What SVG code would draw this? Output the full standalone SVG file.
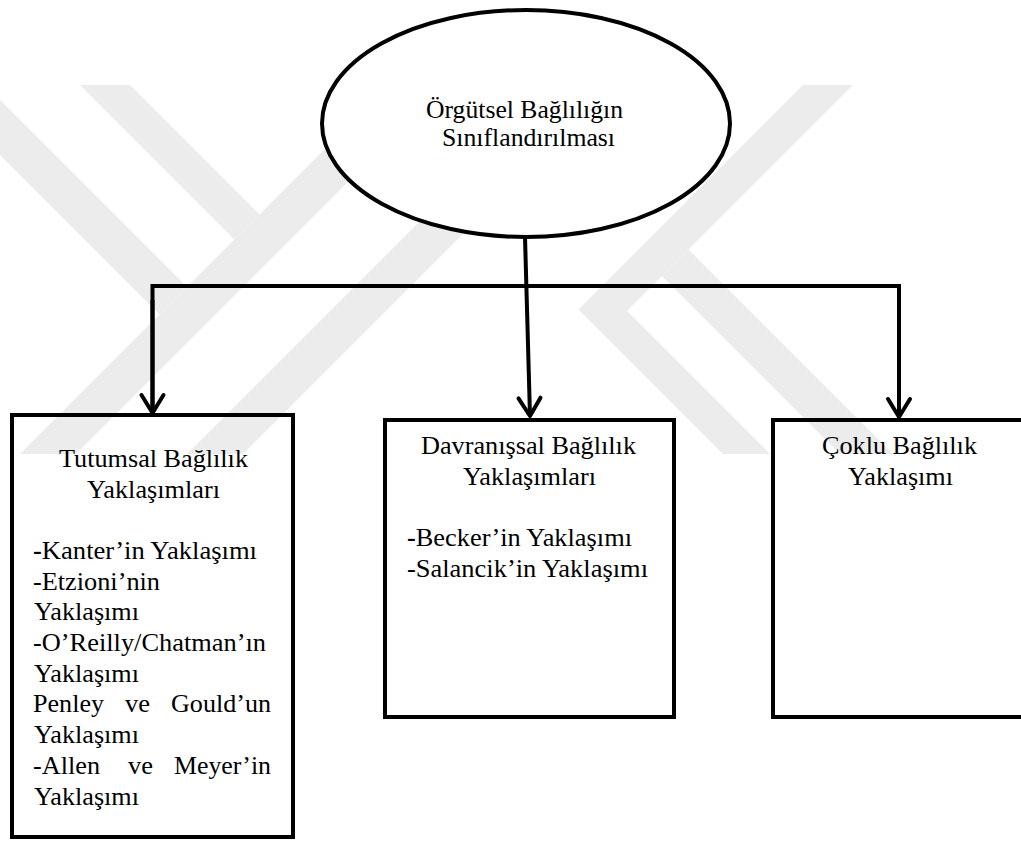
<svg xmlns="http://www.w3.org/2000/svg" width="1021" height="842" viewBox="0 0 1021 842">
<style>
  .wm { fill: #ececec; stroke: none; }
  .shape { fill: none; stroke: #000; stroke-width: 4; }
  .ell { fill: #fff; stroke: #000; stroke-width: 4; }
  .conn { fill: none; stroke: #000; stroke-width: 4; }
  text { font-family: "Liberation Serif", "Times New Roman", serif; font-size: 26px; fill: #000; }
  .b { font-weight: bold; }
</style>
<defs>
  <marker id="arr" markerUnits="userSpaceOnUse" viewBox="-25 -15 30 30" markerWidth="30" markerHeight="30" refX="0" refY="0" orient="auto" overflow="visible">
    <path d="M-18,-11 L0,0 L-18,11" fill="none" stroke="#000" stroke-width="4" stroke-linejoin="round" stroke-linecap="round"/>
  </marker>
</defs>
<rect width="1021" height="842" fill="#fff"/>
<g id="watermark">
  <polygon class="wm" points="80,85 130,85 259.5,214.5 234.5,239.5"/>
  <polygon class="wm" points="-70,85 -15,85 187,287 159.5,314.5"/>
  <polygon class="wm" points="20,454 76,454 445,85 389,85"/>
  <polygon class="wm" points="187,454 243,454 612,85 556,85"/>
  <polygon class="wm" points="803,85 578.5,309.5 723,454 770,454 627,311 853,85"/>
  <polygon class="wm" points="662,276 688.5,249.5 893,454 840,454"/>
</g>
<g id="connectors">
  <line class="conn" x1="525" y1="237" x2="530" y2="416" marker-end="url(#arr)"/>
  <polyline class="conn" points="152.5,413 152.5,286 899,286 899,416"/>
  <line class="conn" x1="152.5" y1="300" x2="152.5" y2="413" marker-end="url(#arr)"/>
  <line class="conn" x1="899" y1="300" x2="899" y2="417" marker-end="url(#arr)"/>
</g>
<g id="root">
  <ellipse class="ell" cx="526" cy="123.5" rx="204" ry="113.5"/>
  <text x="426" y="118" textLength="197" lengthAdjust="spacingAndGlyphs">Örgütsel Bağlılığın</text>
  <text x="442" y="146" textLength="173" lengthAdjust="spacingAndGlyphs">Sınıflandırılması</text>
</g>
<g id="tutumsal">
  <rect class="shape" x="12" y="415" width="281" height="422"/>
  <text x="59" y="467" textLength="189" lengthAdjust="spacingAndGlyphs">Tutumsal Bağlılık</text>
  <text x="87" y="498" textLength="133" lengthAdjust="spacingAndGlyphs">Yaklaşımları</text>
  <text x="33" y="559" textLength="224" lengthAdjust="spacingAndGlyphs"><tspan class="b">-</tspan>Kanter’in Yaklaşımı</text>
  <text x="33" y="590" textLength="127" lengthAdjust="spacingAndGlyphs">-Etzioni’nin</text>
  <text x="34" y="620" textLength="105" lengthAdjust="spacingAndGlyphs">Yaklaşımı</text>
  <text x="33" y="651" textLength="233" lengthAdjust="spacingAndGlyphs">-O’Reilly/Chatman’ın</text>
  <text x="34" y="682" textLength="105" lengthAdjust="spacingAndGlyphs">Yaklaşımı</text>
  <text x="33" y="712" textLength="71" lengthAdjust="spacingAndGlyphs">Penley</text>
  <text x="125" y="712" textLength="25" lengthAdjust="spacingAndGlyphs">ve</text>
  <text x="171" y="712" textLength="100" lengthAdjust="spacingAndGlyphs">Gould’un</text>
  <text x="34" y="743" textLength="105" lengthAdjust="spacingAndGlyphs">Yaklaşımı</text>
  <text x="33" y="774" textLength="67" lengthAdjust="spacingAndGlyphs">-Allen</text>
  <text x="128" y="774" textLength="25" lengthAdjust="spacingAndGlyphs">ve</text>
  <text x="174" y="774" textLength="97" lengthAdjust="spacingAndGlyphs">Meyer’in</text>
  <text x="34" y="805" textLength="105" lengthAdjust="spacingAndGlyphs">Yaklaşımı</text>
</g>
<g id="davranissal">
  <rect class="shape" x="385" y="420" width="289" height="297"/>
  <text x="421" y="454" textLength="215" lengthAdjust="spacingAndGlyphs">Davranışsal Bağlılık</text>
  <text x="463" y="485" textLength="133" lengthAdjust="spacingAndGlyphs">Yaklaşımları</text>
  <text x="407" y="546" textLength="225" lengthAdjust="spacingAndGlyphs"><tspan class="b">-</tspan>Becker’in Yaklaşımı</text>
  <text x="407" y="577" textLength="241" lengthAdjust="spacingAndGlyphs">-Salancik’in Yaklaşımı</text>
</g>
<g id="coklu">
  <rect class="shape" x="773" y="420" width="260" height="297"/>
  <text x="822" y="454" textLength="155" lengthAdjust="spacingAndGlyphs">Çoklu Bağlılık</text>
  <text x="848" y="485" textLength="105" lengthAdjust="spacingAndGlyphs">Yaklaşımı</text>
</g>
</svg>
